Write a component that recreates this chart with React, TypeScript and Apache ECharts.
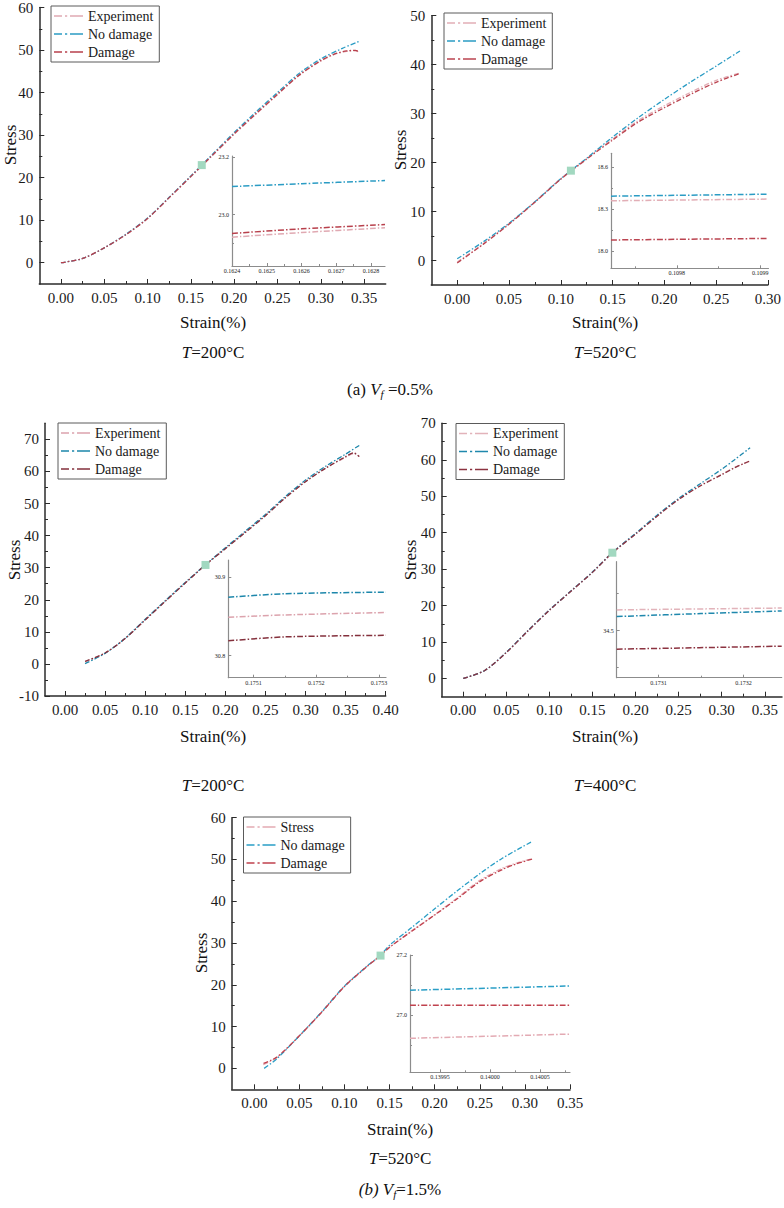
import { useEffect, useRef } from 'react';
import * as echarts from 'echarts';

const SERIF = "'Liberation Serif','Times New Roman',serif";

type Pt = [number, number];

// ---------- (a) Vf = 0.5 %, T = 200 °C ----------
const a200Experiment: Pt[] = [[0, 0], [0.025, 1.0], [0.05, 3.5], [0.075, 6.6], [0.1, 10.4], [0.125, 15.3], [0.15, 20.2], [0.175, 25.2], [0.2, 30.2], [0.225, 34.9], [0.25, 39.5], [0.275, 44.0], [0.3, 47.4], [0.315, 48.9], [0.33, 49.7], [0.34, 49.8], [0.345, 49.5]];
const a200NoDamage: Pt[] = [[0, 0], [0.025, 1.0], [0.05, 3.5], [0.075, 6.7], [0.1, 10.5], [0.125, 15.4], [0.15, 20.4], [0.175, 25.5], [0.2, 30.6], [0.225, 35.4], [0.25, 40.0], [0.275, 44.5], [0.3, 47.9], [0.325, 50.4], [0.345, 52.1]];
const a200Damage: Pt[] = [[0, 0], [0.025, 1.0], [0.05, 3.5], [0.075, 6.6], [0.1, 10.4], [0.125, 15.3], [0.15, 20.3], [0.175, 25.3], [0.2, 30.3], [0.225, 35.0], [0.25, 39.6], [0.275, 44.1], [0.3, 47.5], [0.315, 49.0], [0.33, 49.8], [0.34, 49.9], [0.345, 49.6]];
const a200ZoomExperiment: Pt[] = [[0.1624, 22.921], [0.1626, 22.937], [0.16284, 22.954]];
const a200ZoomNoDamage: Pt[] = [[0.1624, 23.098], [0.1626, 23.108], [0.16284, 23.119]];
const a200ZoomDamage: Pt[] = [[0.1624, 22.934], [0.1626, 22.95], [0.16284, 22.965]];
const a200Marker: Pt[] = [[0.1626, 22.95]];

// ---------- (a) Vf = 0.5 %, T = 520 °C ----------
const a520Experiment: Pt[] = [[0, -0.3], [0.025, 3.4], [0.05, 7.5], [0.075, 12.0], [0.1, 16.7], [0.125, 20.8], [0.15, 24.8], [0.175, 28.6], [0.2, 31.6], [0.225, 34.3], [0.25, 36.8], [0.273, 38.3]];
const a520NoDamage: Pt[] = [[0, 0.35], [0.025, 3.8], [0.05, 7.6], [0.075, 12.0], [0.1, 16.7], [0.125, 20.9], [0.15, 25.2], [0.175, 29.2], [0.2, 32.9], [0.225, 36.4], [0.25, 39.7], [0.273, 42.8]];
const a520Damage: Pt[] = [[0, -0.5], [0.025, 3.3], [0.05, 7.4], [0.075, 11.9], [0.1, 16.6], [0.125, 20.7], [0.15, 24.6], [0.175, 28.3], [0.2, 31.2], [0.225, 33.9], [0.25, 36.4], [0.273, 38.2]];
const a520ZoomExperiment: Pt[] = [[0.109721, 18.36], [0.10991, 18.372]];
const a520ZoomNoDamage: Pt[] = [[0.109721, 18.393], [0.10991, 18.407]];
const a520ZoomDamage: Pt[] = [[0.109721, 18.079], [0.10991, 18.09]];
const a520Marker: Pt[] = [[0.1098, 18.35]];

// ---------- (b) Vf = 1.5 %, T = 200 °C ----------
const b200Experiment: Pt[] = [[0.025, 0.7], [0.05, 3.4], [0.075, 8.0], [0.1, 13.8], [0.125, 19.6], [0.15, 25.3], [0.175, 30.85], [0.2, 36.0], [0.225, 41.1], [0.25, 46.3], [0.275, 51.9], [0.3, 56.9], [0.325, 61.0], [0.35, 64.4], [0.36, 65.6], [0.367, 64.7]];
const b200NoDamage: Pt[] = [[0.025, 0.1], [0.05, 3.3], [0.075, 8.0], [0.1, 13.9], [0.125, 19.7], [0.15, 25.4], [0.175, 30.88], [0.2, 36.2], [0.225, 41.4], [0.25, 46.6], [0.275, 52.2], [0.3, 57.3], [0.325, 61.6], [0.35, 65.4], [0.367, 68.1]];
const b200Damage: Pt[] = [[0.025, 0.8], [0.05, 3.4], [0.075, 7.9], [0.1, 13.7], [0.125, 19.5], [0.15, 25.2], [0.175, 30.82], [0.2, 35.9], [0.225, 41.0], [0.25, 46.2], [0.275, 51.8], [0.3, 56.8], [0.325, 61.0], [0.35, 64.6], [0.36, 65.8], [0.367, 64.6]];
const b200ZoomExperiment: Pt[] = [[0.17506, 30.849], [0.17515, 30.852], [0.175311, 30.855]];
const b200ZoomNoDamage: Pt[] = [[0.17506, 30.8745], [0.17515, 30.879], [0.175311, 30.881]];
const b200ZoomDamage: Pt[] = [[0.17506, 30.819], [0.17515, 30.824], [0.175311, 30.826]];
const b200Marker: Pt[] = [[0.1752, 30.85]];

// ---------- (b) Vf = 1.5 %, T = 400 °C ----------
const b400Experiment: Pt[] = [[0, 0], [0.025, 2.2], [0.05, 7.2], [0.075, 13.1], [0.1, 18.8], [0.125, 24.0], [0.15, 29.2], [0.1731, 34.56], [0.2, 39.7], [0.225, 44.6], [0.25, 49.2], [0.275, 52.9], [0.3, 56.0], [0.315, 57.9], [0.325, 58.9], [0.333, 59.6]];
const b400NoDamage: Pt[] = [[0, 0], [0.025, 2.2], [0.05, 7.2], [0.075, 13.1], [0.1, 18.8], [0.125, 24.0], [0.15, 29.2], [0.1731, 34.54], [0.2, 39.8], [0.225, 44.8], [0.25, 49.4], [0.275, 53.4], [0.3, 57.4], [0.315, 60.0], [0.333, 63.3]];
const b400Damage: Pt[] = [[0, 0], [0.025, 2.2], [0.05, 7.1], [0.075, 13.0], [0.1, 18.7], [0.125, 23.9], [0.15, 29.1], [0.1731, 34.45], [0.2, 39.6], [0.225, 44.5], [0.25, 49.1], [0.275, 52.8], [0.3, 55.9], [0.315, 57.8], [0.325, 58.9], [0.333, 59.7]];
const b400ZoomExperiment: Pt[] = [[0.173051, 34.556], [0.173245, 34.561]];
const b400ZoomNoDamage: Pt[] = [[0.173051, 34.538], [0.17315, 34.546], [0.173245, 34.553]];
const b400ZoomDamage: Pt[] = [[0.173051, 34.45], [0.173245, 34.458]];
const b400Marker: Pt[] = [[0.1731, 34.5]];

// ---------- (b) Vf = 1.5 %, T = 520 °C ----------
const b520Stress: Pt[] = [[0.01, 0.9], [0.025, 2.6], [0.05, 7.8], [0.075, 13.5], [0.1, 19.6], [0.125, 24.4], [0.14, 26.93], [0.15, 29.0], [0.175, 33.0], [0.2, 36.8], [0.225, 40.8], [0.25, 45.0], [0.275, 47.9], [0.29, 49.1], [0.308, 50.2]];
const b520NoDamage: Pt[] = [[0.011, 0], [0.025, 2.3], [0.05, 7.8], [0.075, 13.6], [0.1, 19.7], [0.125, 24.5], [0.14, 27.09], [0.15, 29.5], [0.175, 33.8], [0.2, 38.2], [0.225, 42.5], [0.25, 46.6], [0.275, 50.3], [0.308, 54.3]];
const b520Damage: Pt[] = [[0.0103, 1.2], [0.025, 2.7], [0.05, 7.8], [0.075, 13.5], [0.1, 19.6], [0.125, 24.4], [0.14, 27.03], [0.15, 29.0], [0.175, 32.9], [0.2, 36.7], [0.225, 40.6], [0.25, 44.7], [0.275, 47.6], [0.29, 48.9], [0.308, 50.1]];
const b520ZoomStress: Pt[] = [[0.13992, 26.923], [0.14008, 26.937]];
const b520ZoomNoDamage: Pt[] = [[0.13992, 27.083], [0.14008, 27.097]];
const b520ZoomDamage: Pt[] = [[0.13992, 27.033], [0.14008, 27.033]];
const b520Marker: Pt[] = [[0.14, 27.0]];

// ---------- tick values ----------
const strainTo035 = [0, 0.05, 0.1, 0.15, 0.2, 0.25, 0.3, 0.35];
const strainTo030 = [0, 0.05, 0.1, 0.15, 0.2, 0.25, 0.3];
const strainTo040 = [0, 0.05, 0.1, 0.15, 0.2, 0.25, 0.3, 0.35, 0.4];
const strainMinor = [0.025, 0.075, 0.125, 0.175, 0.225, 0.275, 0.325, 0.375];
const stressTo60 = [0, 10, 20, 30, 40, 50, 60];
const stressTo50 = [0, 10, 20, 30, 40, 50];
const stressTo70 = [0, 10, 20, 30, 40, 50, 60, 70];
const stressFromMinus10 = [-10, 0, 10, 20, 30, 40, 50, 60, 70];
const stressMinor = [-5, 5, 15, 25, 35, 45, 55, 65];

const a200ZoomStrainTicks = [0.1624, 0.1625, 0.1626, 0.1627, 0.1628];
const a200ZoomStrainMinor = [0.16245, 0.16255, 0.16265, 0.16275];
const a200ZoomStressTicks = [23.0, 23.2];
const a200ZoomStressMinor = [22.9, 23.1];
const a520ZoomStrainTicks = [0.1098, 0.1099];
const a520ZoomStrainMinor = [0.10975, 0.10985];
const a520ZoomStressTicks = [18.0, 18.3, 18.6];
const a520ZoomStressMinor = [18.15, 18.45];
const b200ZoomStrainTicks = [0.1751, 0.1752, 0.1753];
const b200ZoomStrainMinor = [0.17515, 0.17525];
const b200ZoomStressTicks = [30.8, 30.9];
const b200ZoomStressMinor: number[] = [];
const b400ZoomStrainTicks = [0.1731, 0.1732];
const b400ZoomStrainMinor = [0.17315];
const b400ZoomStressTicks = [34.5];
const b400ZoomStressMinor = [34.4, 34.6];
const b520ZoomStrainTicks = [0.13995, 0.14, 0.14005];
const b520ZoomStrainMinor = [0.139975, 0.140025, 0.140075];
const b520ZoomStressTicks = [27.0, 27.2];
const b520ZoomStressMinor = [26.9, 27.1];

type Box = { left: number; top: number; width: number; height: number };

interface PanelSpec {
  box: Box;
  xRange: [number, number];
  yRange: [number, number];
  xTicks: number[];
  xMinor: number[];
  yTicks: number[];
  yMinor: number[];
  zoomBox: Box;
  zoomX: [number, number];
  zoomY: [number, number];
  zoomXTicks: number[];
  zoomXMinor: number[];
  zoomYTicks: number[];
  zoomYMinor: number[];
  zoomXDigits: number;
  names: [string, string, string];
  colors: [string, string, string];
  curves: [Pt[], Pt[], Pt[]];
  zoomCurves: [Pt[], Pt[], Pt[]];
  marker: Pt[];
  legendPos: { left: number; top: number };
}

const PANELS: PanelSpec[] = [
  {
    box: { left: 39.3, top: 6, width: 346.4, height: 278 },
    xRange: [-0.025, 0.375], yRange: [-5, 60],
    xTicks: strainTo035, xMinor: strainMinor.filter((v) => v < 0.375), yTicks: stressTo60, yMinor: stressMinor.filter((v) => v > -5 && v < 60),
    zoomBox: { left: 232, top: 156, width: 153, height: 110 },
    zoomX: [0.1624, 0.16284], zoomY: [22.82, 23.205],
    zoomXTicks: a200ZoomStrainTicks, zoomXMinor: a200ZoomStrainMinor, zoomYTicks: a200ZoomStressTicks, zoomYMinor: a200ZoomStressMinor, zoomXDigits: 4,
    names: ['Experiment', 'No damage', 'Damage'],
    colors: ['#e0a9b2', '#2b9cc4', '#b8404c'],
    curves: [a200Experiment, a200NoDamage, a200Damage],
    zoomCurves: [a200ZoomExperiment, a200ZoomNoDamage, a200ZoomDamage],
    marker: a200Marker,
    legendPos: { left: 51, top: 6 },
  },
  {
    box: { left: 431.3, top: 15.7, width: 336.7, height: 269.3 },
    xRange: [-0.025, 0.3], yRange: [-5, 50],
    xTicks: strainTo030, xMinor: strainMinor.filter((v) => v < 0.3), yTicks: stressTo50, yMinor: stressMinor.filter((v) => v > -5 && v < 50),
    zoomBox: { left: 611, top: 153.3, width: 157.5, height: 115 },
    zoomX: [0.109721, 0.10991], zoomY: [17.876, 18.7],
    zoomXTicks: a520ZoomStrainTicks, zoomXMinor: a520ZoomStrainMinor, zoomYTicks: a520ZoomStressTicks, zoomYMinor: a520ZoomStressMinor, zoomXDigits: 4,
    names: ['Experiment', 'No damage', 'Damage'],
    colors: ['#e2aeb6', '#2b9cc4', '#bb4450'],
    curves: [a520Experiment, a520NoDamage, a520Damage],
    zoomCurves: [a520ZoomExperiment, a520ZoomNoDamage, a520ZoomDamage],
    marker: a520Marker,
    legendPos: { left: 444, top: 13 },
  },
  {
    box: { left: 45, top: 423.3, width: 340.7, height: 272.7 },
    xRange: [-0.025, 0.4], yRange: [-10, 75],
    xTicks: strainTo040, xMinor: strainMinor, yTicks: stressFromMinus10, yMinor: stressMinor.filter((v) => v > -10 && v < 75),
    zoomBox: { left: 228.3, top: 560, width: 157.7, height: 117.7 },
    zoomX: [0.17506, 0.175311], zoomY: [30.772, 30.922],
    zoomXTicks: b200ZoomStrainTicks, zoomXMinor: b200ZoomStrainMinor, zoomYTicks: b200ZoomStressTicks, zoomYMinor: b200ZoomStressMinor, zoomXDigits: 4,
    names: ['Experiment', 'No damage', 'Damage'],
    colors: ['#dca3ad', '#1d87ab', '#84303c'],
    curves: [b200Experiment, b200NoDamage, b200Damage],
    zoomCurves: [b200ZoomExperiment, b200ZoomNoDamage, b200ZoomDamage],
    marker: b200Marker,
    legendPos: { left: 58, top: 423 },
  },
  {
    box: { left: 441.7, top: 423.3, width: 340.3, height: 273.4 },
    xRange: [-0.025, 0.37], yRange: [-5, 70],
    xTicks: strainTo035, xMinor: strainMinor.filter((v) => v < 0.37), yTicks: stressTo70, yMinor: stressMinor.filter((v) => v > -5 && v < 70),
    zoomBox: { left: 616.7, top: 561.7, width: 165, height: 116 },
    zoomX: [0.173051, 0.173245], zoomY: [34.373, 34.686],
    zoomXTicks: b400ZoomStrainTicks, zoomXMinor: b400ZoomStrainMinor, zoomYTicks: b400ZoomStressTicks, zoomYMinor: b400ZoomStressMinor, zoomXDigits: 4,
    names: ['Experiment', 'No damage', 'Damage'],
    colors: ['#e2b3ba', '#1f88ad', '#8c3340'],
    curves: [b400Experiment, b400NoDamage, b400Damage],
    zoomCurves: [b400ZoomExperiment, b400ZoomNoDamage, b400ZoomDamage],
    marker: b400Marker,
    legendPos: { left: 456, top: 423.5 },
  },
  {
    box: { left: 231.7, top: 817.7, width: 338.3, height: 271.6 },
    xRange: [-0.025, 0.35], yRange: [-5, 60],
    xTicks: strainTo035, xMinor: strainMinor.filter((v) => v < 0.35), yTicks: stressTo60, yMinor: stressMinor.filter((v) => v > -5 && v < 60),
    zoomBox: { left: 410, top: 955, width: 160, height: 117.3 },
    zoomX: [0.13992, 0.14008], zoomY: [26.81, 27.2],
    zoomXTicks: b520ZoomStrainTicks, zoomXMinor: b520ZoomStrainMinor, zoomYTicks: b520ZoomStressTicks, zoomYMinor: b520ZoomStressMinor, zoomXDigits: 5,
    names: ['Stress', 'No damage', 'Damage'],
    colors: ['#e3aab3', '#2a9ec6', '#c0424e'],
    curves: [b520Stress, b520NoDamage, b520Damage],
    zoomCurves: [b520ZoomStress, b520ZoomNoDamage, b520ZoomDamage],
    marker: b520Marker,
    legendPos: { left: 243.5, top: 817 },
  },
];

const DASH_MAIN = [5, 2, 1.5, 2];
const DASH_ZOOM = [6, 2, 1.5, 2];
// dash · dot · dash key drawn as filled bars, 29 units wide
const LEGEND_KEY = 'path://M0,0h8v1.7h-8z M11,0h2.2v1.7h-2.2z M16,0h13v1.7h-13z';

function buildOption() {
  const grid: any[] = [];
  const xAxis: any[] = [];
  const yAxis: any[] = [];
  const series: any[] = [];
  const legend: any[] = [];

  const addGrid = (
    box: Box,
    xr: [number, number],
    yr: [number, number],
    xMaj: number[],
    xMin: number[],
    yMaj: number[],
    yMin: number[],
    main: boolean,
    xDigits: number,
  ) => {
    const g = grid.length;
    grid.push({ ...box, containLabel: false });
    const lineColor = main ? '#2b2b2b' : '#8c8c8c';
    const lineWidth = main ? 1.5 : 1.2;
    const majorLen = main ? 5 : 3;
    const minorLen = main ? 3 : 2;
    const labelFont = main ? 15 : 6;
    const yDigits = main ? 0 : 1;
    const common = { type: 'value', gridIndex: g, splitLine: { show: false } };
    xAxis.push({
      ...common,
      position: 'bottom',
      min: xr[0],
      max: xr[1],
      axisLine: { show: true, onZero: false, lineStyle: { color: lineColor, width: lineWidth } },
      axisTick: { show: true, inside: true, length: majorLen, customValues: xMaj, lineStyle: { color: lineColor, width: 1 } },
      axisLabel: {
        show: true,
        customValues: xMaj,
        margin: main ? 6 : 2,
        fontSize: labelFont,
        fontFamily: SERIF,
        color: '#1a1a1a',
        formatter: (v: number) => v.toFixed(main ? 2 : xDigits),
      },
    });
    xAxis.push({
      ...common,
      position: 'bottom',
      min: xr[0],
      max: xr[1],
      axisLine: { show: false, onZero: false },
      axisTick: { show: true, inside: true, length: minorLen, customValues: xMin, lineStyle: { color: lineColor, width: 1 } },
      axisLabel: { show: false },
    });
    yAxis.push({
      ...common,
      position: 'left',
      min: yr[0],
      max: yr[1],
      axisLine: { show: true, onZero: false, lineStyle: { color: lineColor, width: lineWidth } },
      axisTick: { show: true, inside: true, length: majorLen, customValues: yMaj, lineStyle: { color: lineColor, width: 1 } },
      axisLabel: {
        show: true,
        customValues: yMaj,
        margin: main ? 6 : 3,
        fontSize: labelFont,
        fontFamily: SERIF,
        color: '#1a1a1a',
        formatter: (v: number) => v.toFixed(yDigits),
      },
    });
    yAxis.push({
      ...common,
      position: 'left',
      min: yr[0],
      max: yr[1],
      axisLine: { show: false, onZero: false },
      axisTick: { show: true, inside: true, length: minorLen, customValues: yMin, lineStyle: { color: lineColor, width: 1 } },
      axisLabel: { show: false },
    });
    return 2 * g;
  };

  PANELS.forEach((p) => {
    const mainAx = addGrid(p.box, p.xRange, p.yRange, p.xTicks, p.xMinor, p.yTicks, p.yMinor, true, 2);
    const zoomAx = addGrid(p.zoomBox, p.zoomX, p.zoomY, p.zoomXTicks, p.zoomXMinor, p.zoomYTicks, p.zoomYMinor, false, p.zoomXDigits);

    p.names.forEach((name, i) => {
      series.push({
        type: 'line',
        name,
        xAxisIndex: mainAx,
        yAxisIndex: mainAx,
        data: p.curves[i],
        showSymbol: false,
        symbol: 'none',
        smooth: 0.3,
        silent: true,
        z: 3 + i,
        itemStyle: { color: p.colors[i] },
        lineStyle: { color: p.colors[i], width: 1.3, type: DASH_MAIN },
      });
      series.push({
        type: 'line',
        name,
        xAxisIndex: zoomAx,
        yAxisIndex: zoomAx,
        data: p.zoomCurves[i],
        showSymbol: false,
        symbol: 'none',
        smooth: 0.3,
        silent: true,
        z: 3,
        itemStyle: { color: p.colors[i] },
        lineStyle: { color: p.colors[i], width: 1.5, type: DASH_ZOOM },
      });
    });

    series.push({
      type: 'scatter',
      name: 'zoom point',
      xAxisIndex: mainAx,
      yAxisIndex: mainAx,
      data: p.marker,
      symbol: 'rect',
      symbolSize: 8,
      silent: true,
      z: 10,
      itemStyle: { color: '#a2d8c0', opacity: 1 },
    });

    legend.push({
      orient: 'vertical',
      left: p.legendPos.left,
      top: p.legendPos.top,
      itemWidth: 29,
      itemHeight: 14,
      itemGap: 4,
      padding: [3, 6, 3, 3],
      borderColor: '#5a5a5a',
      borderWidth: 1,
      selectedMode: false,
      textStyle: { fontFamily: SERIF, fontSize: 14, color: '#1a1a1a' },
      data: p.names.map((name, i) => ({
        name,
        icon: LEGEND_KEY,
        itemStyle: { color: p.colors[i], borderWidth: 0 },
      })),
    });
  });

  const captionRich = {
    i: { fontStyle: 'italic', fontFamily: SERIF, fontSize: 17, color: '#111', lineHeight: 20, verticalAlign: 'middle' },
    s: { fontStyle: 'italic', fontFamily: SERIF, fontSize: 11, color: '#111', lineHeight: 9, verticalAlign: 'bottom' },
  };
  const caption = (text: string, x: number, y: number) => ({
    type: 'text',
    x,
    y,
    silent: true,
    style: {
      text,
      fill: '#111',
      fontFamily: SERIF,
      fontSize: 17,
      lineHeight: 20,
      align: 'center',
      verticalAlign: 'middle',
      rich: captionRich,
    },
  });
  const stressTitle = (x: number, y: number) => ({
    type: 'text',
    x,
    y,
    rotation: Math.PI / 2,
    silent: true,
    style: { text: 'Stress', fill: '#111', fontFamily: SERIF, fontSize: 17, align: 'center', verticalAlign: 'middle' },
  });

  const graphic = [
    caption('Strain(%)', 213, 322),
    caption('{i|T}=200°C', 213, 352),
    caption('(a) {i|V}{s|f} =0.5%', 390, 389),
    caption('Strain(%)', 605, 322),
    caption('{i|T}=520°C', 605, 352),
    caption('Strain(%)', 213, 736),
    caption('{i|T}=200°C', 213, 785),
    caption('Strain(%)', 605, 736),
    caption('{i|T}=400°C', 605, 785),
    caption('Strain(%)', 400, 1129),
    caption('{i|T}=520°C', 400, 1158),
    caption('{i|(b) V}{s|f}=1.5%', 400, 1189),
    stressTitle(10, 145),
    stressTitle(400, 150),
    stressTitle(14, 560),
    stressTitle(410, 560),
    stressTitle(201, 953),
  ];

  return {
    animation: false,
    backgroundColor: '#ffffff',
    grid,
    xAxis,
    yAxis,
    legend,
    series,
    graphic,
  };
}

export default function App() {
  const ref = useRef<HTMLDivElement>(null);

  useEffect(() => {
    document.body.style.margin = '0';
    if (!ref.current) return;
    const chart = echarts.init(ref.current, undefined, { renderer: 'svg' });
    chart.setOption(buildOption() as any);
    return () => chart.dispose();
  }, []);

  return (
    <div
      ref={ref}
      style={{ position: 'absolute', left: 0, top: 0, width: 784, height: 1208, background: '#fff' }}
    />
  );
}
